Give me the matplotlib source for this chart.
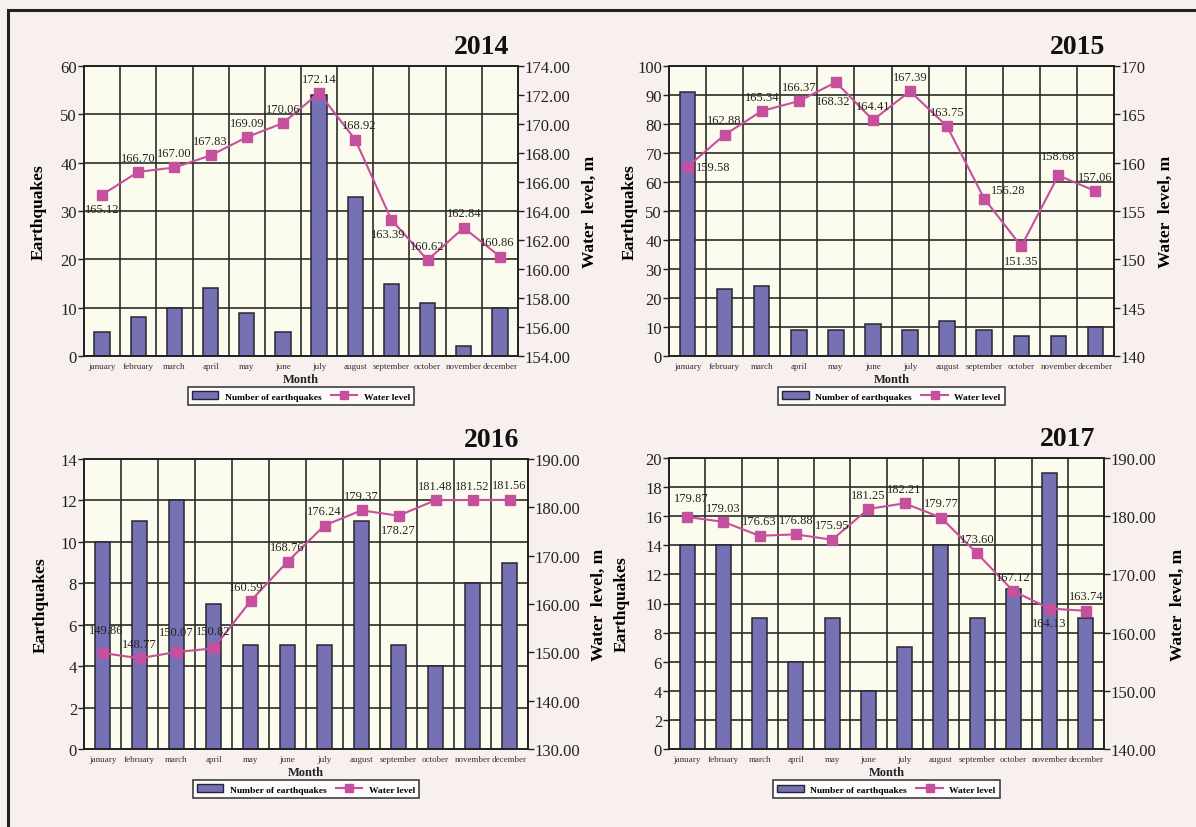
import numpy as np
import matplotlib.pyplot as plt
from matplotlib.patches import Patch, Rectangle
from matplotlib.lines import Line2D
from matplotlib.ticker import FormatStrFormatter

plt.rcParams['font.family'] = ['Liberation Serif', 'DejaVu Serif']

months = ['january', 'february', 'march', 'april', 'may', 'june', 'july',
          'august', 'september', 'october', 'november', 'december']

quakes_2014 = [5, 8, 10, 14, 9, 5, 54, 33, 15, 11, 2, 10]
water_2014 = [165.12, 166.70, 167.00, 167.83, 169.09, 170.06, 172.14, 168.92, 163.39, 160.62, 162.84, 160.86]

quakes_2015 = [91, 23, 24, 9, 9, 11, 9, 12, 9, 7, 7, 10]
water_2015 = [159.58, 162.88, 165.34, 166.37, 168.32, 164.41, 167.39, 163.75, 156.28, 151.35, 158.68, 157.06]

quakes_2016 = [10, 11, 12, 7, 5, 5, 5, 11, 5, 4, 8, 9]
water_2016 = [149.86, 148.77, 150.07, 150.82, 160.59, 168.76, 176.24, 179.37, 178.27, 181.48, 181.52, 181.56]

quakes_2017 = [14, 14, 9, 6, 9, 4, 7, 14, 9, 11, 19, 9]
water_2017 = [179.87, 179.03, 176.63, 176.88, 175.95, 181.25, 182.21, 179.77, 173.60, 167.12, 164.13, 163.74]

BAR_COLOR = '#7571b4'
LINE_COLOR = '#c64f9e'
EDGE = '#262630'
PLOT_BG = '#fcfcee'
FIG_BG = '#f8f0ee'

# where each value label sits relative to its point (dx, dy in points, ha, va)
U = (0, 6, 'center', 'bottom')
D = (0, -6, 'center', 'top')
lab_2014 = [D, U, U, U, U, U, U, (3, 6, 'center', 'bottom'), (-2, -6, 'center', 'top'), U, U, (-2, 6, 'center', 'bottom')]
lab_2015 = [(6, 0, 'left', 'center'), U, U, U, (-2, -9, 'center', 'top'), U, U, U, (5, 2, 'left', 'bottom'), D, (0, 10, 'center', 'bottom'), U]
lab_2016 = [(3, 12, 'center', 'bottom'), (0, 6, 'center', 'bottom'), (0, 10, 'center', 'bottom'), (0, 8, 'center', 'bottom'),
            (-3, 6, 'center', 'bottom'), U, U, U, D, U, U, U]
lab_2017 = [(3, 9, 'center', 'bottom'), U, U, U, U, U, U, U, U, U, D, U]


def px_axes(fig, left, right, top, bottom):
    W, H = 1196, 828
    return fig.add_axes([left / W, 1 - bottom / H, (right - left) / W, (bottom - top) / H])


def draw_panel(ax, year, quakes, water, ylim, ystep, wlim, wstep, wfmt, labs, ylab_px, wlab_px):
    x = np.arange(len(months))
    width_px = ax.get_position().width * 1196
    ax.set_facecolor(PLOT_BG)
    ax.bar(x, quakes, width=0.42, color=BAR_COLOR, edgecolor=EDGE, linewidth=1.1, zorder=2)
    ax.set_xlim(-0.5, len(months) - 0.5)
    ax.set_ylim(*ylim)
    ax.set_yticks(np.arange(ylim[0], ylim[1] + ystep / 2, ystep))
    ax.set_xticks(x)
    ax.set_xticklabels(months, fontsize=6.5, color='#333333')
    ax.set_xticks(np.arange(-0.5, len(months), 1), minor=True)
    ax.tick_params(axis='x', which='both', length=0, pad=4)
    ax.tick_params(axis='y', labelsize=12, length=4, width=1, direction='out', pad=1, colors='#222222')
    ax.grid(which='major', axis='y', color='#2a2a2a', lw=1.2)
    ax.grid(which='minor', axis='x', color='#2a2a2a', lw=1.2)
    ax.set_axisbelow(True)
    for s in ax.spines.values():
        s.set_color('#222222')
        s.set_linewidth(1.2)
    ax.set_ylabel('Earthquakes', fontsize=12.5, fontweight='bold')
    ax.yaxis.set_label_coords(-ylab_px / width_px, 0.5)
    ax.text(0.5, -0.08, 'Month', transform=ax.transAxes, ha='center', va='center',
            fontsize=9, fontweight='bold', color='#222222')
    ax.text(0.98, 1.025, str(year), transform=ax.transAxes, ha='right', va='bottom',
            fontsize=20, fontweight='bold', color='#111111')

    ax2 = ax.twinx()
    ax2.plot(x, water, color=LINE_COLOR, lw=1.5, marker='s', markersize=7, zorder=4)
    ax2.set_ylim(*wlim)
    ax2.set_yticks(np.arange(wlim[0], wlim[1] + wstep / 2, wstep))
    ax2.yaxis.set_major_formatter(FormatStrFormatter(wfmt))
    ax2.tick_params(axis='y', labelsize=12, length=4, width=1, direction='out', pad=1, colors='#222222')
    for s in ax2.spines.values():
        s.set_color('#222222')
        s.set_linewidth(1.2)
    ax2.set_ylabel('Water  level, m', fontsize=12.5, fontweight='bold')
    ax2.yaxis.set_label_coords(1 + wlab_px / width_px, 0.5)
    for xi, w, (dx, dy, ha, va) in zip(x, water, labs):
        ax2.annotate('%.2f' % w, (xi, w), xytext=(dx, dy), textcoords='offset points',
                     ha=ha, va=va, fontsize=9, color='#222222', zorder=5)

    handles = [Patch(facecolor=BAR_COLOR, edgecolor=EDGE, linewidth=1.0),
               Line2D([0], [0], color=LINE_COLOR, lw=1.5, marker='s', markersize=6)]
    leg = ax.legend(handles, ['Number of earthquakes', 'Water level'], loc='center',
                    bbox_to_anchor=(0.5, -0.138), ncol=2, fontsize=6.8, frameon=True,
                    fancybox=False, edgecolor='#111111', handlelength=2.8, handleheight=0.9,
                    borderpad=0.45, columnspacing=1.0, handletextpad=0.7, borderaxespad=0)
    leg.get_frame().set_linewidth(1.2)
    leg.get_frame().set_facecolor('white')
    for t in leg.get_texts():
        t.set_fontweight('bold')


fig = plt.figure(figsize=(11.96, 8.28), dpi=100)
fig.patch.set_facecolor(FIG_BG)
fig.patches.append(Rectangle((8 / 1196, -0.05), 1.1, 1 - 11 / 828 + 0.05, transform=fig.transFigure,
                             fill=False, edgecolor='#222222', linewidth=2.2))

ax_a = px_axes(fig, 84, 518, 67, 357)
draw_panel(ax_a, 2014, quakes_2014, water_2014, (0, 60), 10, (154, 174), 2, '%.2f', lab_2014, 37, 64)

ax_b = px_axes(fig, 669, 1114, 67, 357)
draw_panel(ax_b, 2015, quakes_2015, water_2015, (0, 100), 10, (140, 170), 5, '%d', lab_2015, 31, 44)

ax_c = px_axes(fig, 84, 528, 460, 750)
draw_panel(ax_c, 2016, quakes_2016, water_2016, (0, 14), 2, (130, 190), 10, '%.2f', lab_2016, 35, 63)

ax_d = px_axes(fig, 669, 1104, 459, 750)
draw_panel(ax_d, 2017, quakes_2017, water_2017, (0, 20), 2, (140, 190), 10, '%.2f', lab_2017, 39, 66)

fig.savefig('out.png', dpi=100, facecolor=fig.get_facecolor())
